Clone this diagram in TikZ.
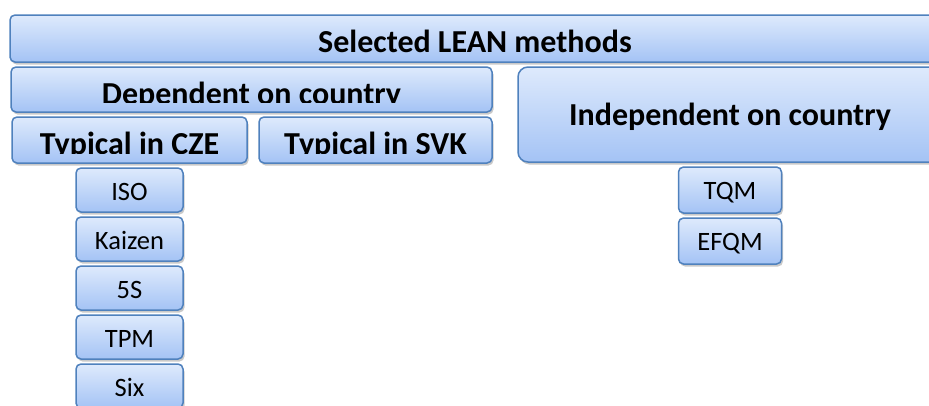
\documentclass[tikz,border=0pt]{standalone}
\usepackage{fontspec}
\setmainfont{Carlito}
\usepackage{tikz}
\usetikzlibrary{positioning, shadows}
\definecolor{boxline}{RGB}{79,129,189}
\definecolor{boxtop}{RGB}{222,234,252}
\definecolor{boxbottom}{RGB}{164,195,245}
\tikzset{
  box/.style = {
    rectangle,
    rounded corners=5pt,
    draw=boxline,
    line width=1.5pt,
    outer sep=0pt,
    top color=boxtop,
    bottom color=boxbottom,
    inner sep=0pt,
    drop shadow={shadow xshift=1.5pt, shadow yshift=-2.5pt, opacity=0.3, fill=black!70}
  },
  head/.style = {
    font=\fontsize{32}{38}\bfseries\selectfont,
    text=black
  },
  item/.style = {
    box,
    minimum width=107pt,
    minimum height=44pt,
    text height=20pt,
    text depth=0pt,
    font=\fontsize{26.5}{31}\selectfont
  },
  item_right/.style = {
    item,
    minimum width=103pt,
    minimum height=46pt,
    text height=18pt
  }
}

\begin{document}
\begin{tikzpicture}[x=1pt, y=-1pt]
\useasboundingbox (0,0) rectangle (929,405);
\clip (0,0) rectangle (929,405);

% ===== Topo =====
\node (lean) [box, head, minimum width=930pt, minimum height=47pt,
  text height=30pt, text depth=3pt] at (475,38.5) {Selected LEAN methods};

% ===== Nivel 2 =====
\node (dep) [box, below=5pt of lean.south west, anchor=north west, xshift=1pt,
  minimum width=481pt, minimum height=45pt] {};
\node (indep) [box, head, rounded corners=10pt, right=26pt of dep.north east, anchor=north west,
  minimum width=424pt, minimum height=95pt, text height=22pt, text depth=1pt] {Independent on country};

% ===== Nivel 3 =====
\node (cze) [box, below=5pt of dep.south west, anchor=north west, xshift=1pt,
  minimum width=235pt, minimum height=46pt] {};
\node (svk) [box, right=12pt of cze, minimum width=233pt, minimum height=46pt] {};

% ===== Textos cortados =====
\begin{scope}
  \clip (dep.north west) rectangle ([yshift=9.5pt]dep.south east);
  \node (deplabel) [head, anchor=base] at ([yshift=8pt]dep.south) {Dependent on country};
\end{scope}
\begin{scope}
  \clip (cze.north west) rectangle ([yshift=10pt]svk.south east);
  \node (czelabel) [head, anchor=base] at ([yshift=9pt]cze.south) {Typical in CZE};
  \node (svklabel) [head, anchor=base] at ([yshift=9pt]svk.south) {Typical in SVK};
\end{scope}

% ===== Metodos (CZE) =====
\node (iso) [item, below=5pt of cze] {ISO};
\node (kaizen) [item, below=5pt of iso] {Kaizen};
\node (fives) [item, below=5pt of kaizen] {5S};
\node (tpm) [item, below=5pt of fives] {TPM};
\node (six) [item, below=5pt of tpm] {Six};

% ===== Metodos (independentes) =====
\node (tqm) [item_right, below=5pt of indep] {TQM};
\node (efqm) [item_right, below=5pt of tqm] {EFQM};

\end{tikzpicture}
\end{document}
